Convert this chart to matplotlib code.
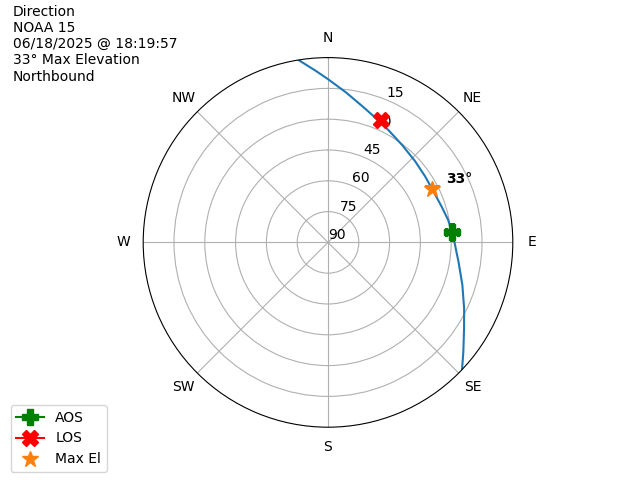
import numpy as np
import matplotlib
matplotlib.use("Agg")
import matplotlib.pyplot as plt

# Track (azimuth deg, elevation deg)
track_az = [350.8, 355.8, 359.9, 6.8, 14.5, 21.4, 28.3, 37.3, 46.9, 55.6, 62.6,
            72.4, 79.3, 87.2, 94.8, 98.3, 107.5, 115.9, 122.3, 129.0, 133.5]
track_el = [0.0, 6.1, 10.4, 16.4, 21.8, 25.3, 27.9, 30.4, 32.0, 32.8, 33.0,
            32.0, 30.5, 28.9, 27.1, 25.8, 21.4, 16.3, 11.6, 5.2, 0.0]

aos_az, aos_el = 85.0, 29.3
los_az, los_el = 23.3, 25.0
max_az, max_el = 62.6, 33.0

dir_labels = ["N", "NE", "E", "SE", "S", "SW", "W", "NW"]
dir_angles = [0, 45, 90, 135, 180, 225, 270, 315]
el_ticks = [90, 75, 60, 45, 30, 15]

info_text = "Direction\nNOAA 15\n06/18/2025 @ 18:19:57\n33\u00b0 Max Elevation\nNorthbound"

fig = plt.figure(figsize=(6.4, 4.8), dpi=100)
ax = fig.add_subplot(111, projection="polar")
ax.set_theta_zero_location("N")
ax.set_theta_direction(-1)

th = np.unwrap(np.radians(track_az))
r = 90 - np.array(track_el)
ax.plot(th, r, color="tab:blue")

ax.plot(np.radians(aos_az), 90 - aos_el, marker="P", color="green", markersize=12, label="AOS")
ax.plot(np.radians(los_az), 90 - los_el, marker="X", color="red", markersize=12, label="LOS")
ax.plot(np.radians(max_az), 90 - max_el, marker="*", color="tab:orange", markersize=12,
        linestyle="None", label="Max El")
ax.annotate(f"{int(max_el)}\u00b0", (np.radians(max_az), 90 - max_el), xytext=(10, 4),
            textcoords="offset points", fontweight="bold", ha="left", va="baseline")

ax.set_rlim(0, 90)
ax.set_yticks([90 - e for e in el_ticks])
ax.set_yticklabels([str(e) for e in el_ticks])
ax.set_xticks(np.radians(dir_angles))
ax.set_xticklabels(dir_labels)

fig.text(0.02, 0.99, info_text, ha="left", va="top", fontsize=10)
fig.legend(loc="lower left", bbox_to_anchor=(0.0167, 0.0167), borderaxespad=0)

fig.savefig("out.png", dpi=100)
